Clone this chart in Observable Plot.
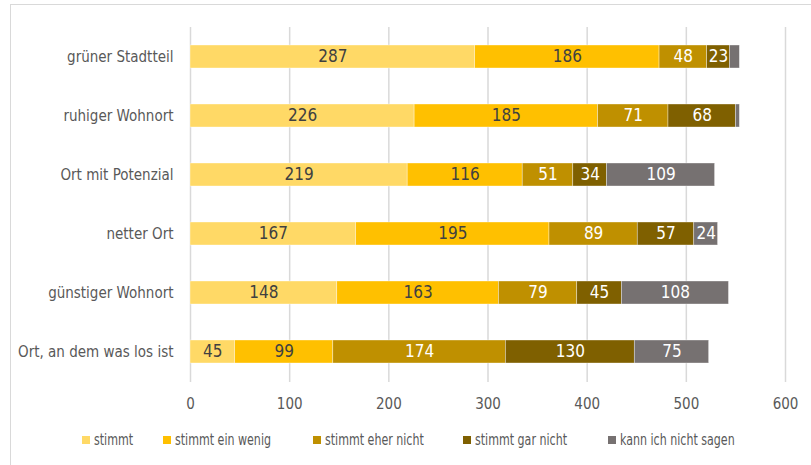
<!DOCTYPE html>
<html>
<head>
<meta charset="utf-8">
<script src="https://cdn.jsdelivr.net/npm/d3@7"></script>
<script src="https://cdn.jsdelivr.net/npm/@observablehq/plot@0.6"></script>
<style>
  html, body { margin: 0; padding: 0; background: #fff; width: 811px; height: 465px; overflow: hidden; }
  #frame { position: absolute; left: 10px; top: 4px; width: 820px; height: 480px; border-left: 1.5px solid #d9d9d9; border-top: 1.5px solid #d9d9d9; }
  #chart { position: absolute; left: 0; top: 0; }
  #legend { position: absolute; left: 0; width: 811px; top: 430px; height: 20px;
    font-family: "DejaVu Sans Condensed", "Liberation Sans Narrow", sans-serif; font-stretch: condensed; font-size: 15px; color: #595959; }
  #legend .item { position: absolute; top: 0; display: flex; align-items: center; white-space: nowrap; height: 20px; }
  #legend .sw { width: 8px; height: 8px; display: inline-block; margin-right: 4px; flex: none; }
  #legend .tx { display: inline-block; transform: scaleX(0.82); transform-origin: left center; }
</style>
</head>
<body>
<div id="frame"></div>
<div id="chart"></div>
<div id="legend"></div>
<script>
const categories = ["grüner Stadtteil", "ruhiger Wohnort", "Ort mit Potenzial", "netter Ort", "günstiger Wohnort", "Ort, an dem was los ist"];
const seriesNames = ["stimmt", "stimmt ein wenig", "stimmt eher nicht", "stimmt gar nicht", "kann ich nicht sagen"];
const stimmt = [287, 226, 219, 167, 148, 45];
const stimmtEinWenig = [186, 185, 116, 195, 163, 99];
const stimmtEherNicht = [48, 71, 51, 89, 79, 174];
const stimmtGarNicht = [23, 68, 34, 57, 45, 130];
const kannIchNichtSagen = [10, 4, 109, 24, 108, 75];
const xTicks = [0, 100, 200, 300, 400, 500, 600];
const colors = ["#FFD966", "#FFC000", "#BF9000", "#7F6000", "#767171"];
const labelColors = ["#404040", "#404040", "#ffffff", "#ffffff", "#ffffff"];
const legendLeft = [82, 163, 313, 463, 608]; // layout of the legend entries (px)

const seriesValues = [stimmt, stimmtEinWenig, stimmtEherNicht, stimmtGarNicht, kannIchNichtSagen];
const data = [];
categories.forEach((c, i) => {
  seriesNames.forEach((s, j) => {
    data.push({cat: c, series: s, si: j, value: seriesValues[j][i]});
  });
});

const font = '"DejaVu Sans Condensed", "Liberation Sans Narrow", sans-serif';

const chart = Plot.plot({
  width: 811,
  height: 420,
  marginLeft: 190,
  marginRight: 26,
  marginTop: 27,
  marginBottom: 38,
  style: {fontFamily: font, fontStretch: "condensed", fontSize: "15px", color: "#595959", background: "transparent"},
  x: {domain: [0, 600], ticks: xTicks, label: null},
  y: {domain: categories, paddingInner: 0.61, paddingOuter: 0.305, label: null},
  color: {domain: seriesNames, range: colors},
  marks: [
    Plot.ruleX(xTicks, {stroke: "#d9d9d9", strokeWidth: 1.5}),
    Plot.barX(data, Plot.stackX({x: "value", y: "cat", fill: "series", order: null, stroke: "#ffffff", strokeWidth: 0.6, strokeOpacity: 0.6})),
    Plot.text(data, Plot.stackX({
      x: "value", y: "cat", z: "series", order: null,
      text: d => d.value >= 20 ? String(d.value) : "",
      fill: d => labelColors[d.si],
      fontSize: 17, fontFamily: font
    })),
    Plot.axisX({ticks: xTicks, tickSize: 0, tickPadding: 16, fontSize: 15, fill: "#595959", label: null}),
    Plot.axisY({tickSize: 0, tickPadding: 17, fontSize: 15, fill: "#595959", label: null})
  ]
});
document.getElementById("chart").appendChild(chart);

const legend = document.getElementById("legend");
seriesNames.forEach((s, j) => {
  const item = document.createElement("div");
  item.className = "item";
  item.style.left = legendLeft[j] + "px";
  const sw = document.createElement("span");
  sw.className = "sw";
  sw.style.background = colors[j];
  const t = document.createElement("span");
  t.className = "tx";
  t.textContent = s;
  item.appendChild(sw);
  item.appendChild(t);
  legend.appendChild(item);
});
</script>
</body>
</html>
